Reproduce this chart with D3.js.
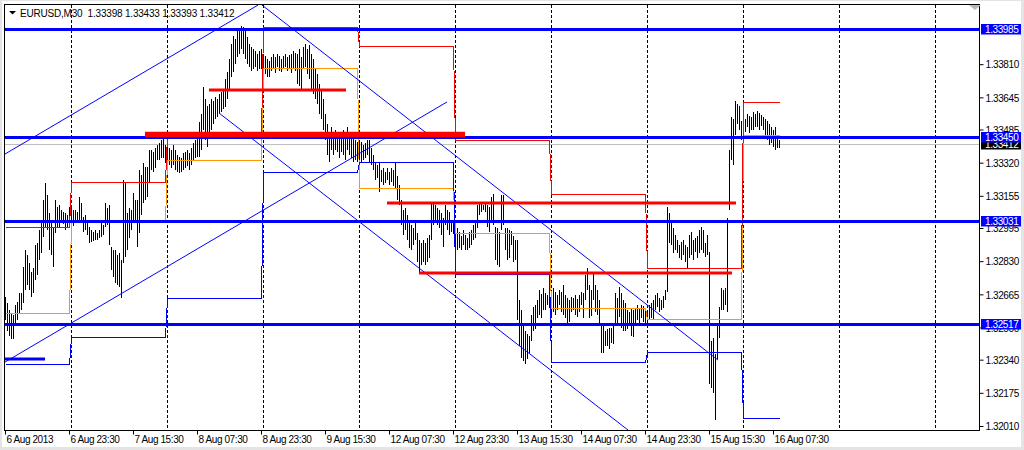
<!DOCTYPE html>
<html>
<head>
<meta charset="utf-8">
<script src="https://cdn.jsdelivr.net/npm/d3@7"></script>
<style>
  body { margin: 0; background: #fff; }
  svg text { font-family: "Liberation Sans", Arial, sans-serif; font-size: 10px; letter-spacing: -0.4px; }
</style>
</head>
<body>
<div id="chart"></div>
<script>
// DATA
////////////////////////////
// EURUSD M30 bars, first bar = 6 Aug 2013 07:30, one value per bar (high / low)
var highs = [
  // 6 Aug
  1.32650,1.32620,1.32585,1.32570,1.32560,1.32610,1.32625,1.32670,1.32670,1.32800,1.32885,1.32860,1.32820,1.32775,1.32795,1.32910,1.32920,
  1.32985,1.33020,1.33135,1.33220,1.33160,1.33070,1.33035,1.33000,1.33135,1.33100,1.33110,1.33085,1.33075,1.33070,1.33060,1.33100,
  // 7 Aug
  1.33100,1.33085,1.33085,1.33075,1.33150,1.33120,1.33050,1.33060,1.33025,1.33000,1.32985,1.32975,1.32985,1.32970,1.32985,1.33025,
  1.33010,1.33120,1.33095,1.33110,1.32900,1.32885,1.32885,1.32860,1.32870,1.32835,1.33235,1.33220,1.33070,1.33095,1.33085,1.33170,
  1.33135,1.33135,1.33285,1.33260,1.33320,1.33300,1.33300,1.33385,1.33385,1.33375,1.33395,1.33410,1.33420,1.33435,1.33460,1.33410,
  // 8 Aug
  1.33410,1.33395,1.33385,1.33410,1.33385,1.33360,1.33350,1.33345,1.33370,1.33375,1.33385,1.33370,1.33395,1.33420,1.33435,1.33460,
  1.33520,1.33560,1.33695,1.33635,1.33600,1.33610,1.33635,1.33625,1.33645,1.33635,1.33660,1.33670,1.33685,1.33735,1.33770,1.33835,
  1.33910,1.33950,1.33935,1.33985,1.33975,1.34000,1.33995,1.33975,1.33945,1.33910,1.33895,1.33885,1.33875,1.33860,1.33875,1.33885,
  // 9 Aug
  1.33860,1.33850,1.33835,1.33825,1.33845,1.33860,1.33845,1.33860,1.33850,1.33835,1.33850,1.33860,1.33845,1.33855,1.33860,1.33875,
  1.33865,1.33860,1.33885,1.33845,1.33895,1.33910,1.33885,1.33905,1.33860,1.33835,1.33785,1.33760,1.33710,1.33685,1.33635,1.33560,
  1.33510,1.33475,1.33495,1.33470,1.33485,1.33475,1.33460,1.33470,1.33485,1.33460,1.33495,1.33475,1.33460,1.33445,1.33435,1.33425,
  // 12 Aug
  1.33435,1.33425,1.33410,1.33420,1.33435,1.33435,1.33395,1.33360,1.33325,1.33310,1.33320,1.33285,1.33295,1.33275,1.33295,1.33275,
  1.33295,1.33285,1.33325,1.33255,1.33210,1.33135,1.33085,1.33095,1.33060,1.33025,1.33010,1.32995,1.33025,1.32970,1.32935,1.32920,
  1.32935,1.32920,1.32945,1.32960,1.33120,1.33120,1.33110,1.33095,1.33085,1.33070,1.33045,1.33110,1.33085,1.33075,1.33035,1.33025,
  // 13 Aug
  1.33010,1.32995,1.32975,1.32955,1.32985,1.32960,1.32945,1.32975,1.32985,1.33010,1.33025,1.33110,1.33125,1.33120,1.33110,1.33120,
  1.33110,1.33100,1.33150,1.33165,1.33000,1.32995,1.32975,1.33160,1.33160,1.32995,1.32995,1.32985,1.32980,1.32955,1.32935,1.32935,
  1.32635,1.32585,1.32520,1.32485,1.32470,1.32460,1.32560,1.32600,1.32610,1.32635,1.32685,1.32665,1.32695,1.32670,1.32660,1.32650,
  // 14 Aug
  1.32660,1.32695,1.32675,1.32660,1.32685,1.32675,1.32710,1.32660,1.32645,1.32635,1.32650,1.32645,1.32660,1.32640,1.32660,1.32675,
  1.32670,1.32760,1.32795,1.32710,1.32685,1.32770,1.32710,1.32685,1.32635,1.32520,1.32510,1.32485,1.32495,1.32500,1.32500,1.32510,
  1.32670,1.32645,1.32700,1.32670,1.32635,1.32620,1.32585,1.32575,1.32595,1.32585,1.32595,1.32610,1.32595,1.32610,1.32605,1.32595,
  // 15 Aug
  1.32585,1.32610,1.32620,1.32635,1.32660,1.32670,1.32645,1.32635,1.32655,1.32685,1.33100,1.33070,1.33035,1.32995,1.32960,1.32935,
  1.32910,1.32925,1.32935,1.32910,1.32900,1.32960,1.32975,1.32935,1.32945,1.32955,1.32985,1.33000,1.32985,1.32920,1.32960,1.32875,
  1.32435,1.32450,1.32370,1.32520,1.32600,1.32695,1.32685,1.32695,1.33045,1.33385,1.33545,1.33535,1.33625,1.33610,1.33600,1.33525,
  // 16 Aug
  1.33545,1.33535,1.33560,1.33550,1.33545,1.33570,1.33560,1.33575,1.33565,1.33555,1.33545,1.33535,1.33525,1.33510,1.33495,1.33485,
  1.33495,1.33460,1.33433
];
var lows = [
  // 6 Aug
  1.32535,1.32485,1.32460,1.32445,1.32445,1.32510,1.32535,1.32570,1.32585,1.32620,1.32685,1.32710,1.32685,1.32650,1.32670,1.32735,1.32760,
  1.32835,1.32870,1.32950,1.33000,1.32985,1.32885,1.32860,1.32800,1.32970,1.33000,1.32995,1.33025,1.33015,1.32985,1.32995,1.33035,
  // 7 Aug
  1.33010,1.33005,1.33020,1.33025,1.33035,1.33025,1.32975,1.32985,1.32960,1.32920,1.32925,1.32930,1.32935,1.32935,1.32945,1.32950,
  1.32960,1.33000,1.33010,1.32910,1.32785,1.32750,1.32720,1.32710,1.32700,1.32645,1.32820,1.32850,1.32885,1.32945,1.32985,1.33020,
  1.33035,1.32900,1.32970,1.33060,1.33120,1.33135,1.33150,1.33220,1.33285,1.33275,1.33295,1.33335,1.33335,1.33345,1.33345,1.33320,
  // 8 Aug
  1.33325,1.33310,1.33295,1.33310,1.33285,1.33275,1.33270,1.33275,1.33285,1.33295,1.33305,1.33285,1.33310,1.33335,1.33345,1.33350,
  1.33350,1.33385,1.33485,1.33435,1.33400,1.33460,1.33485,1.33510,1.33535,1.33545,1.33560,1.33570,1.33585,1.33595,1.33635,1.33685,
  1.33745,1.33770,1.33810,1.33845,1.33860,1.33885,1.33860,1.33835,1.33810,1.33795,1.33775,1.33785,1.33795,1.33775,1.33785,1.33785,
  // 9 Aug
  1.33775,1.33760,1.33745,1.33745,1.33775,1.33785,1.33765,1.33795,1.33775,1.33770,1.33785,1.33795,1.33775,1.33785,1.33765,1.33785,
  1.33775,1.33710,1.33700,1.33675,1.33785,1.33795,1.33760,1.33735,1.33685,1.33660,1.33635,1.33610,1.33560,1.33535,1.33485,1.33435,
  1.33360,1.33325,1.33385,1.33360,1.33385,1.33375,1.33345,1.33375,1.33360,1.33335,1.33385,1.33360,1.33345,1.33325,1.33335,1.33325,
  // 12 Aug
  1.33335,1.33325,1.33335,1.33345,1.33360,1.33325,1.33310,1.33285,1.33235,1.33245,1.33175,1.33225,1.33210,1.33220,1.33235,1.33210,
  1.33225,1.33205,1.33195,1.33135,1.33110,1.33010,1.32960,1.32985,1.32935,1.32895,1.32885,1.32910,1.32935,1.32825,1.32765,1.32810,
  1.32825,1.32810,1.32825,1.32845,1.32935,1.33010,1.33025,1.33010,1.32995,1.32960,1.32900,1.33010,1.32985,1.32960,1.32975,1.32965,
  // 13 Aug
  1.32910,1.32885,1.32895,1.32885,1.32910,1.32885,1.32885,1.32895,1.32910,1.32935,1.32945,1.32995,1.33060,1.33075,1.33085,1.33075,
  1.33000,1.32975,1.33025,1.33010,1.32835,1.32810,1.32800,1.32985,1.33010,1.32885,1.32835,1.32845,1.32910,1.32825,1.32835,1.32535,
  1.32410,1.32350,1.32335,1.32320,1.32345,1.32375,1.32435,1.32485,1.32495,1.32545,1.32560,1.32545,1.32585,1.32585,1.32610,1.32595,
  // 14 Aug
  1.32545,1.32575,1.32560,1.32585,1.32610,1.32575,1.32560,1.32545,1.32510,1.32525,1.32575,1.32585,1.32560,1.32550,1.32575,1.32610,
  1.32545,1.32635,1.32685,1.32545,1.32555,1.32635,1.32575,1.32560,1.32510,1.32375,1.32375,1.32410,1.32410,1.32395,1.32425,1.32420,
  1.32510,1.32520,1.32550,1.32500,1.32485,1.32485,1.32495,1.32510,1.32460,1.32455,1.32510,1.32535,1.32520,1.32545,1.32525,1.32520,
  // 15 Aug
  1.32525,1.32535,1.32545,1.32535,1.32585,1.32600,1.32575,1.32585,1.32595,1.32635,1.32675,1.32920,1.32910,1.32870,1.32885,1.32870,
  1.32845,1.32835,1.32860,1.32825,1.32795,1.32845,1.32860,1.32835,1.32875,1.32845,1.32870,1.32885,1.32870,1.32850,1.32860,1.32220,
  1.32200,1.32175,1.32040,1.32345,1.32450,1.32585,1.32585,1.32610,1.32575,1.33085,1.33335,1.33310,1.33460,1.33510,1.33485,1.33435,
  // 16 Aug
  1.33460,1.33475,1.33495,1.33470,1.33485,1.33485,1.33495,1.33495,1.33485,1.33500,1.33485,1.33460,1.33435,1.33410,1.33420,1.33400,
  1.33385,1.33395,1.33393
];

// last bar OHLC for the header
var lastOHLC = ["1.33398", "1.33433", "1.33393", "1.33412"];
var bidPrice = 1.33412;

// trading days: first bar of each day (6,7,8,9,12,13,14,15,16 Aug)
var dayStart = [0, 33, 81, 129, 177, 225, 273, 321, 369];
// daily levels indicator (previous day high / low / close)
var prevHigh  = [1.33000, 1.33224, 1.33458, 1.33995, 1.33900, 1.33433, 1.33164, 1.32796, 1.33622];
var prevLow   = [1.32318, 1.32453, 1.32647, 1.33274, 1.33323, 1.32766, 1.32328, 1.32378, 1.32050];
var prevClose = [1.32572, 1.33030, 1.33333, 1.33791, 1.33194, 1.32970, 1.32597, 1.32542, 1.33458];

// period separators (bar index of 00:00, incl. the ones in the empty right part)
var separators = [33, 81, 129, 177, 225, 273, 321, 369, 417, 465];

// time axis
var timeTicks  = [0, 32, 64, 96, 128, 160, 192, 224, 256, 288, 320, 352, 384];
var timeLabels = ["6 Aug 2013", "6 Aug 23:30", "7 Aug 15:30", "8 Aug 07:30", "8 Aug 23:30", "9 Aug 15:30",
                  "12 Aug 07:30", "12 Aug 23:30", "13 Aug 15:30", "14 Aug 07:30", "14 Aug 23:30", "15 Aug 15:30", "16 Aug 07:30"];

// price axis (the ones that peek out from under the price tags are kept)
var priceTicks = [1.32010, 1.32175, 1.32340, 1.32500, 1.32665, 1.32830, 1.32995, 1.33155, 1.33320, 1.33485, 1.33645, 1.33810];

// horizontal lines (blue, with price labels)
var hLines = [1.33985, 1.33450, 1.33031, 1.32517];

// red horizontal segments: price, from bar, to bar
var redPrice = [1.33460, 1.33682, 1.33119, 1.32771];
var redFrom  = [70, 102, 191, 207];
var redTo    = [230, 170.5, 365.5, 363.5];

// short blue segment
var bluePrice = [1.32343];
var blueFrom  = [0];
var blueTo    = [20];

// trend lines: [bar1, price1, bar2, price2]
var trendLines = [
  [0, 1.33363, 126.5, 1.34104],
  [0, 1.32328, 221, 1.33622],
  [128.5, 1.34104, 356.5, 1.32338],
  [107, 1.33567, 311.5, 1.31990]
];


// SETUP
////////////////////////////
var width = 1024,
    height = 450;
var L = 4.5, T = 4.5, R = 979.5, B = 430.5;   // chart frame

var x = d3.scaleLinear().domain([0, 487]).range([5, 979]);
var y = d3.scaleLinear().domain([1.32010, 1.33985]).range([426, 29]);

var svg = d3.select("#chart").append("svg")
    .attr("width", width)
    .attr("height", height);

// window border + white chart background
svg.append("rect").attr("width", width).attr("height", height).attr("fill", "#e4e4e4");
svg.append("rect").attr("x", 2).attr("y", 1).attr("width", 1019).attr("height", 446).attr("fill", "#fff");

svg.append("clipPath").attr("id", "plotclip")
  .append("rect").attr("x", L).attr("y", T).attr("width", R - L).attr("height", B - T);

var plot = svg.append("g").attr("clip-path", "url(#plotclip)");

// period separators
plot.selectAll("line.sep")
  .data(separators).enter().append("line")
    .attr("class", "sep")
    .attr("x1", function(d) { return x(d) + 0.5; })
    .attr("x2", function(d) { return x(d) + 0.5; })
    .attr("y1", T).attr("y2", B)
    .attr("stroke", "#000")
    .attr("stroke-dasharray", "3,2")
    .attr("shape-rendering", "crispEdges");

// bid line
plot.append("line")
  .attr("x1", L).attr("x2", R)
  .attr("y1", Math.round(y(bidPrice)) + 0.5).attr("y2", Math.round(y(bidPrice)) + 0.5)
  .attr("stroke", "#c0c0c0");

// bars (high-low)
plot.selectAll("line.bar")
  .data(highs).enter().append("line")
    .attr("class", "bar")
    .attr("x1", function(d, i) { return x(i) + 0.5; })
    .attr("x2", function(d, i) { return x(i) + 0.5; })
    .attr("y1", function(d) { return y(d); })
    .attr("y2", function(d, i) { return Math.max(y(lows[i]), y(d) + 1); })
    .attr("stroke", "#000")
    .attr("shape-rendering", "crispEdges");

// daily levels: one point per bar, value of its day
function dayOf(i) {
  var k = 0;
  while (k + 1 < dayStart.length && i >= dayStart[k + 1]) k++;
  return k;
}
var line = d3.line().x(function(d) { return d[0]; }).y(function(d) { return d[1]; });
function levelPath(levels) {
  return line(highs.map(function(h, i) { return [x(i) + 0.5, Math.round(y(levels[dayOf(i)])) + 0.5]; }));
}
[[prevClose, "#ff9900"], [prevHigh, "#ff0000"], [prevLow, "#0000ff"]].forEach(function(s) {
  plot.append("path")
    .attr("d", levelPath(s[0]))
    .attr("fill", "none")
    .attr("stroke", s[1])
    .attr("stroke-width", 1)
    .attr("shape-rendering", "crispEdges");
});

// trend lines (rays clipped by the frame)
plot.selectAll("line.trend")
  .data(trendLines).enter().append("line")
    .attr("class", "trend")
    .attr("x1", function(d) { return x(d[0]); })
    .attr("y1", function(d) { return y(d[1]); })
    .attr("x2", function(d) { return x(d[2]); })
    .attr("y2", function(d) { return y(d[3]); })
    .attr("stroke", "#0000ff")
    .attr("stroke-width", 1);

// blue horizontal lines
plot.selectAll("line.hline")
  .data(hLines).enter().append("line")
    .attr("class", "hline")
    .attr("x1", L).attr("x2", R)
    .attr("y1", function(d) { return Math.round(y(d)) + 0.5; })
    .attr("y2", function(d) { return Math.round(y(d)) + 0.5; })
    .attr("stroke", "#0000ff")
    .attr("stroke-width", 3);

// red segments (first one is the fat one)
plot.selectAll("line.red")
  .data(redPrice).enter().append("line")
    .attr("class", "red")
    .attr("x1", function(d, i) { return x(redFrom[i]); })
    .attr("x2", function(d, i) { return x(redTo[i]); })
    .attr("y1", function(d) { return y(d); })
    .attr("y2", function(d) { return y(d); })
    .attr("stroke", "#ff0000")
    .attr("stroke-width", function(d, i) { return i === 0 ? 5.5 : 3; });

plot.selectAll("line.bseg")
  .data(bluePrice).enter().append("line")
    .attr("class", "bseg")
    .attr("x1", function(d, i) { return x(blueFrom[i]); })
    .attr("x2", function(d, i) { return x(blueTo[i]); })
    .attr("y1", function(d) { return y(d); })
    .attr("y2", function(d) { return y(d); })
    .attr("stroke", "#0000ff")
    .attr("stroke-width", 3);

// frame
svg.append("rect")
  .attr("x", L).attr("y", T).attr("width", R - L).attr("height", B - T)
  .attr("fill", "none").attr("stroke", "#000");

// shift marker
svg.append("path").attr("d", "M969,5 L981,5 L975,10 Z").attr("fill", "#b8b8b8");

// AXES
////////////////////////////
var yAxis = d3.axisRight(y)
    .tickValues(priceTicks)
    .tickSize(4)
    .tickFormat(d3.format(".5f"));
var gy = svg.append("g").attr("transform", "translate(" + R + ",0)").call(yAxis);
gy.select(".domain").remove();
gy.selectAll("text").attr("x", 6).attr("dy", "0.38em").attr("fill", "#000")
  .attr("font-family", null).attr("font-size", null);
gy.selectAll("line").attr("stroke", "#000");

var xAxis = d3.axisBottom(x)
    .tickValues(timeTicks)
    .tickSize(4)
    .tickFormat(function(d, i) { return timeLabels[i]; });
var gx = svg.append("g").attr("transform", "translate(0," + B + ")").call(xAxis);
gx.select(".domain").remove();
gx.selectAll("text").attr("x", 1).attr("y", 5.5).attr("text-anchor", "start").attr("fill", "#000")
  .attr("font-family", null).attr("font-size", null);
gx.selectAll("line").attr("stroke", "#000");

// price labels on the right: current price (black) then the blue lines
function priceTag(p, fill) {
  var yy = Math.round(y(p));
  svg.append("rect").attr("x", 981).attr("y", yy - 5).attr("width", 40).attr("height", 10.5).attr("fill", fill);
  svg.append("text").attr("x", 985).attr("y", yy + 4).attr("fill", "#fff").text(d3.format(".5f")(p));
}
priceTag(bidPrice, "#000");
hLines.forEach(function(p) { priceTag(p, "#0000ff"); });

// HEADER
////////////////////////////
svg.append("path").attr("d", "M9,11 L16,11 L12.5,14.5 Z").attr("fill", "#000");
svg.append("text")
  .attr("x", 20).attr("y", 16.5)
  .style("white-space", "pre")
  .style("letter-spacing", "-0.2px")
  .text("EURUSD,M30  " + lastOHLC.join(" "));
</script>
</body>
</html>
